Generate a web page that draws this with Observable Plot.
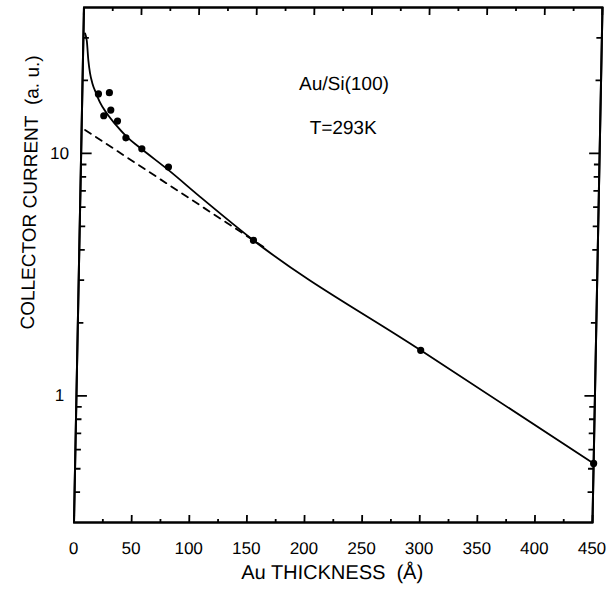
<!DOCTYPE html>
<html><head><meta charset="utf-8">
<script src="https://cdn.jsdelivr.net/npm/d3@7"></script>
<script src="https://cdn.jsdelivr.net/npm/@observablehq/plot@0.6"></script>
<style>
body{margin:0;background:#fff;overflow:hidden}
#chart svg{display:block;font-family:'Liberation Sans',Arial,sans-serif}
</style>
</head><body><div id="chart"></div>
<script>
// Measured points: Au thickness (Å) vs collector current (a.u.)
const thickness = [14, 19, 23.5, 25, 31, 38.6, 52.6, 76, 151, 298, 450];
const current   = [17.6, 14.3, 17.8, 15.1, 13.6, 11.6, 10.45, 8.78, 4.38, 1.54, 0.526];
// Solid fit curve
const fitX = [1.4, 3, 4.7, 6.4, 8.6, 12, 15.6, 21.7, 29.1, 39.4, 52.7, 75.9, 104, 151, 298, 450];
const fitY = [31.3, 29.2, 24.2, 21.4, 19.45, 17.7, 16.2, 14.6, 13.2, 11.7, 10.4, 8.55, 6.62, 4.38, 1.54, 0.526];
// Dashed line (bulk extrapolation)
const dashX = [3, 160];
const dashY = [12.5, 4.11];
// Axis ranges and ticks
const xDomain = [0, 450];
const yDomain = [0.3, 40];
const xMajor = [0, 50, 100, 150, 200, 250, 300, 350, 400, 450];
const xMinor = [25, 75, 125, 175, 225, 275, 325, 375, 425];
const yMajor = [1, 10];
const yMinor = [0.4, 0.5, 0.6, 0.7, 0.8, 0.9, 2, 3, 4, 5, 6, 7, 8, 9, 20, 30];
// Annotations
const noteText = ["Au/Si(100)", "T=293K"];
const noteX = [227, 227];
const noteY = [19.4, 12.7];
const xLabel = "Au THICKNESS\u00a0 (Å)";
const yLabel = "COLLECTOR CURRENT\u00a0 (a. u.)";

const points = thickness.map((t, i) => ({t, c: current[i]}));
const fit = fitX.map((t, i) => ({t, c: fitY[i]}));
const dash = dashX.map((t, i) => ({t, c: dashY[i]}));
const notes = noteText.map((s, i) => ({s, x: noteX[i], y: noteY[i]}));
const box = [[xDomain[0], yDomain[0]], [xDomain[1], yDomain[0]], [xDomain[1], yDomain[1]], [xDomain[0], yDomain[1]], [xDomain[0], yDomain[0]]];

const W = 608, H = 592, ML = 73.5, MR = 16, MT = 7, MB = 70;
const FW = W - ML - MR, FH = H - MT - MB;
const blank = () => "";
const tk = {stroke: "black", strokeWidth: 1.8, tickFormat: blank};
// Inward ticks: an axis drawn on the opposite side and shifted across the frame points inward.
const inward = (side, values, len) => {
  if (side === "bottom") return Plot.axisX({anchor: "top", ticks: values, tickSize: len, dy: FH, ...tk});
  if (side === "top") return Plot.axisX({anchor: "bottom", ticks: values, tickSize: len, dy: -FH, ...tk});
  if (side === "left") return Plot.axisY({anchor: "right", ticks: values, tickSize: len, dx: -FW, ...tk});
  return Plot.axisY({anchor: "left", ticks: values, tickSize: len, dx: FW, ...tk});
};

const chart = Plot.plot({
  width: W, height: H,
  marginLeft: ML, marginRight: MR, marginTop: MT, marginBottom: MB,
  x: {domain: xDomain},
  y: {type: "log", domain: yDomain},
  marks: [
    Plot.frame({stroke: "black", strokeWidth: 2}),
    Plot.line(box, {stroke: "black", strokeWidth: 2}),
    Plot.axisX({anchor: "bottom", ticks: xMajor, tickSize: 0, tickPadding: 19, tickFormat: d => String(d), fontSize: 17}),
    Plot.axisY({anchor: "left", ticks: yMajor, tickSize: 0, tickPadding: 12, tickFormat: d => String(d), fontSize: 17}),
    inward("bottom", xMajor, 8), inward("bottom", xMinor, 4),
    inward("top", xMajor, 8), inward("top", xMinor, 4),
    inward("left", yMajor, 10), inward("left", yMinor, 5),
    inward("right", yMajor, 10), inward("right", yMinor, 5),
    Plot.line(dash, {x: "t", y: "c", stroke: "black", strokeWidth: 1.8, strokeDasharray: "7,6"}),
    Plot.line(fit, {x: "t", y: "c", stroke: "black", strokeWidth: 1.8, curve: "monotone-x"}),
    Plot.dot(points, {x: "t", y: "c", r: 3.6, fill: "black", stroke: "none"}),
    Plot.text(notes, {x: "x", y: "y", text: "s", fontSize: 19}),
    Plot.text([xLabel], {text: d => d, frameAnchor: "bottom", dy: 56, fontSize: 20, textAnchor: "middle"}),
    Plot.text([yLabel], {text: d => d, frameAnchor: "left", rotate: -90, dx: -50, dy: -72.5, fontSize: 19, textAnchor: "middle"})
  ]
});
// The scanned original is slightly sheared: reproduce that with an SVG skew about the bottom axis.
const shear = Math.tan(1.11 * Math.PI / 180);
const g = document.createElementNS("http://www.w3.org/2000/svg", "g");
g.setAttribute("transform", `translate(${shear * (H - MB)},0) skewX(-1.11)`);
for (const el of [...chart.childNodes]) if (el.tagName !== "style") g.append(el);
chart.append(g);
document.getElementById("chart").append(chart);
</script>
</body></html>
